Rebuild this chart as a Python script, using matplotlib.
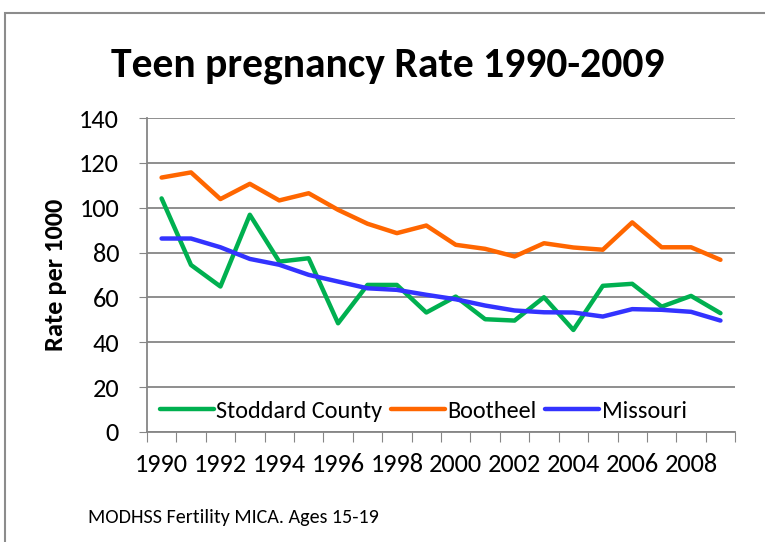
import matplotlib.pyplot as plt
from matplotlib import font_manager
from matplotlib.patches import Rectangle

# values
years = list(range(1990, 2010))
stoddard = [104.2, 74.5, 64.9, 96.9, 76.0, 77.5, 48.5, 65.6, 65.6, 53.3,
            60.4, 50.3, 49.7, 60.1, 45.5, 65.2, 66.1, 55.9, 60.7, 53.0]
bootheel = [113.5, 115.8, 103.9, 110.7, 103.3, 106.5, 99.1, 92.9, 88.7, 92.1,
            83.5, 81.7, 78.3, 84.2, 82.3, 81.3, 93.5, 82.4, 82.4, 76.8]
missouri = [86.3, 86.3, 82.4, 77.2, 74.6, 70.1, 67.1, 64.1, 63.4, 61.2,
            59.2, 56.4, 54.2, 53.4, 53.3, 51.5, 54.8, 54.5, 53.6, 49.7]
yticks = [0, 20, 40, 60, 80, 100, 120, 140]

# pick a Calibri-like font if one is there
names = {f.name for f in font_manager.fontManager.ttflist}
font = next(n for n in ['Carlito', 'Lato', 'Open Sans', 'DejaVu Sans'] if n in names)
plt.rcParams['font.family'] = font

fig = plt.figure(figsize=(7.65, 5.42), dpi=100)
ax = fig.add_axes([0.192, 0.203, 0.769, 0.579])

x = list(range(len(years)))
ax.plot(x, stoddard, color='#00B050', lw=3.2, label='Stoddard County', solid_capstyle='round')
ax.plot(x, bootheel, color='#FF6600', lw=3.2, label='Bootheel', solid_capstyle='round')
ax.plot(x, missouri, color='#3333FF', lw=3.2, label='Missouri', solid_capstyle='round')

ax.set_ylim(0, 140)
ax.set_xlim(-0.5, len(years) - 0.5)
ax.set_yticks(yticks)
ax.yaxis.grid(True, color='#868686', lw=1.3)
ax.set_axisbelow(True)
ax.tick_params(axis='y', labelsize=19, length=6, color='#868686', pad=14)

# category boundaries as tick marks, labels every other year
ax.set_xticks([i - 0.5 for i in range(len(years) + 1)])
ax.set_xticklabels([])
ax.set_xticks(x[::2], minor=True)
ax.set_xticklabels([str(y) for y in years[::2]], minor=True)
ax.tick_params(axis='x', which='major', length=7, color='#868686', direction='out')
ax.tick_params(axis='x', which='minor', length=0, labelsize=19, pad=15)

for s in ['top', 'right']:
    ax.spines[s].set_visible(False)
for s in ['left', 'bottom']:
    ax.spines[s].set_color('#868686')
    ax.spines[s].set_linewidth(1.3)

ax.set_ylabel('Rate per 1000', fontsize=19, fontweight='bold')
ax.yaxis.set_label_coords(-0.136, 0.5)

ax.legend(loc='center', bbox_to_anchor=(0.47, 0.066), ncol=3, frameon=False,
          fontsize=17.5, handlelength=2.2, handletextpad=0.12, columnspacing=0.35)

fig.text(0.507, 0.88, 'Teen pregnancy Rate 1990-2009', ha='center', va='center',
         fontsize=30, fontweight='bold')
fig.text(0.115, 0.046, 'MODHSS Fertility MICA. Ages 15-19', ha='left', va='center',
         fontsize=14.5)

fig.patches.append(Rectangle((0.0065, -0.1), 1.2, 1.076, transform=fig.transFigure,
                             fill=False, edgecolor='#8c8c8c', lw=1.5, clip_on=False))

fig.savefig('out.png', dpi=100)
